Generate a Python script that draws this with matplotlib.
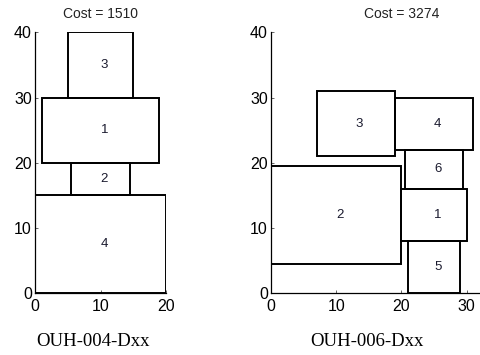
import matplotlib
matplotlib.use("Agg")
import matplotlib.pyplot as plt
from matplotlib.patches import Rectangle

# OUH-004-Dxx layout
ids_a = ["1", "2", "3", "4"]
x_a = [1, 5.5, 5, 0]
y_a = [20, 15, 30, 0]
w_a = [18, 9, 10, 20]
h_a = [10, 5, 10, 15]
cost_a = 1510

# OUH-006-Dxx layout
ids_b = ["1", "2", "3", "4", "5", "6"]
x_b = [20, 0, 7, 19, 21, 20.5]
y_b = [8, 4.5, 21, 22, 0, 16]
w_b = [10, 20, 12, 12, 8, 9]
h_b = [8, 15, 10, 8, 8, 6]
cost_b = 3274

plt.rcParams['font.family'] = ['Liberation Sans', 'DejaVu Sans']

W, H = 481, 355
fig = plt.figure(figsize=(W / 100, H / 100), dpi=100)

# axes positions in pixels: (left, bottom, width, height) -- scale 6.5 px per unit
# the right panel runs past the figure edge (0..40 in x), as in the reference crop
ax1 = fig.add_axes([35.3 / W, (H - 293.3) / H, 130.4 / W, 261 / H])
ax2 = fig.add_axes([271.3 / W, (H - 293.3) / H, 260.4 / W, 261 / H])


def desenha(ax, ids, xs, ys, ws, hs, cost, xmax, xticks, caption, cx):
    for nome, x, y, w, h in zip(ids, xs, ys, ws, hs):
        ax.add_patch(Rectangle((x, y), w, h, fill=False, edgecolor='black',
                               linewidth=1.4, zorder=3))
        ax.text(x + w / 2, y + h / 2, nome, ha='left', va='center',
                fontsize=9.5, color='#1a1a2e', zorder=4)
    ax.set_xlim(0, xmax)
    ax.set_ylim(0, 40)
    ax.set_xticks(xticks)
    ax.set_yticks(range(0, 41, 10))
    for s in ['top', 'right']:
        ax.spines[s].set_visible(False)
    for s in ['left', 'bottom']:
        ax.spines[s].set_linewidth(0.9)
    ax.tick_params(direction='in', length=2, width=0.7, color='#666666',
                   labelsize=11.5)
    ax.tick_params(axis='x', pad=4)
    ax.tick_params(axis='y', pad=2.5)
    ax.set_title(f"Cost = {cost}", fontsize=10, pad=10, color='#222222')
    fig.text(cx / W, (H - 341.7) / H, caption, ha='center', va='center',
             fontsize=13.5, family='Liberation Serif')


desenha(ax1, ids_a, x_a, y_a, w_a, h_a, cost_a, 20, [0, 10, 20], "OUH-004-Dxx", 93)
desenha(ax2, ids_b, x_b, y_b, w_b, h_b, cost_b, 40, [0, 10, 20, 30], "OUH-006-Dxx", 366.7)

fig.savefig("out.png", dpi=100)
